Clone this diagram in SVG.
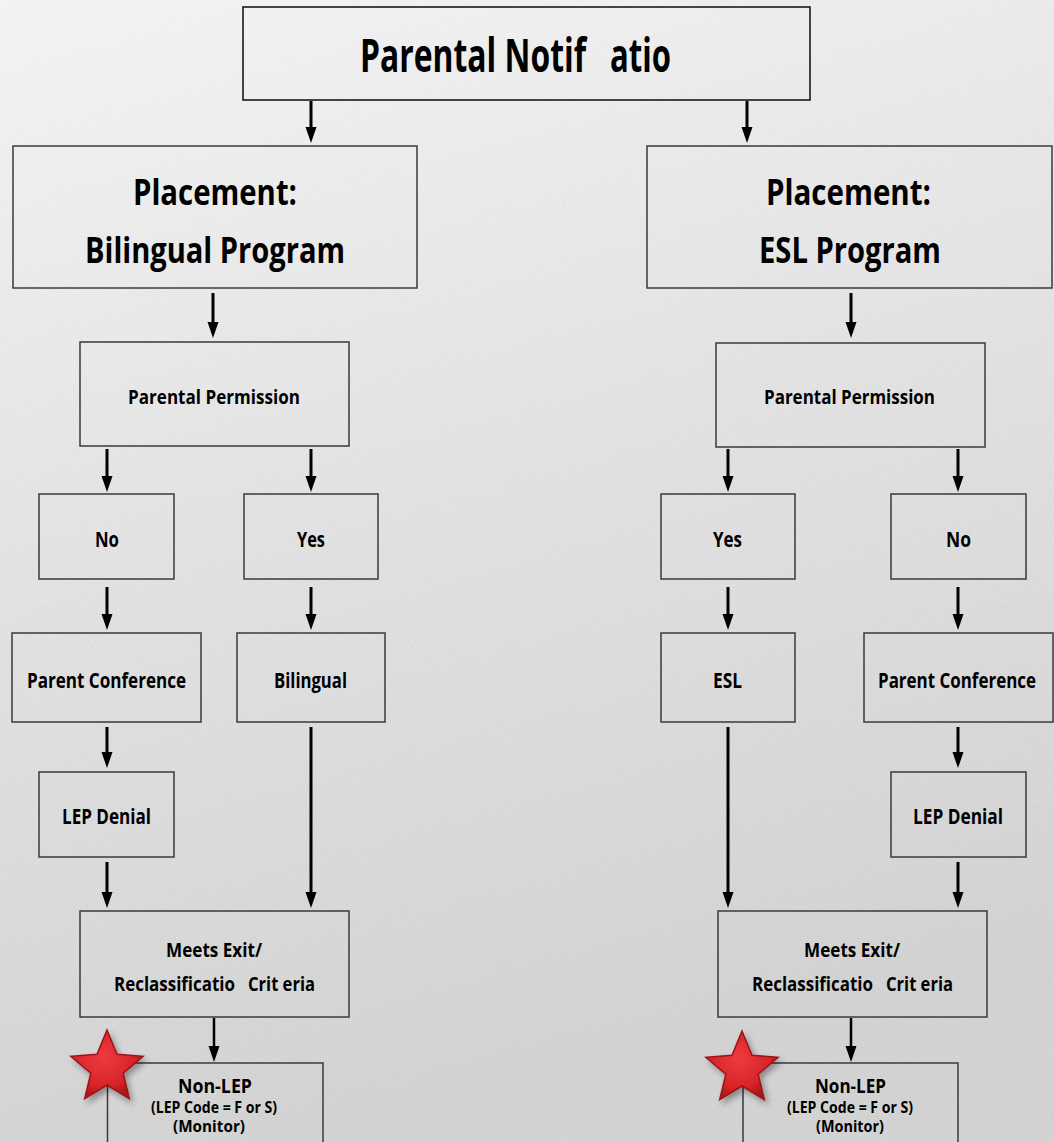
<svg xmlns="http://www.w3.org/2000/svg" width="1054" height="1142" viewBox="0 0 1054 1142">
<defs>
<linearGradient id="bg" x1="0" y1="0" x2="0.25" y2="1">
<stop offset="0" stop-color="#fbfbfb"/>
<stop offset="0.5" stop-color="#e7e7e7"/>
<stop offset="1" stop-color="#d6d6d6"/>
</linearGradient>
<filter id="noise" x="0" y="0" width="100%" height="100%">
<feTurbulence type="fractalNoise" baseFrequency="0.8 0.45" numOctaves="3" seed="4"/>
<feColorMatrix type="matrix" values="0.33 0.33 0.33 0 0  0.33 0.33 0.33 0 0  0.33 0.33 0.33 0 0  0 0 0 0 1"/>
</filter>
<radialGradient id="starFill" cx="0.45" cy="0.4" r="0.6">
<stop offset="0" stop-color="#ee3a40"/>
<stop offset="0.7" stop-color="#d8242a"/>
<stop offset="1" stop-color="#a81418"/>
</radialGradient>
<filter id="shadow" x="-30%" y="-30%" width="160%" height="160%">
<feDropShadow dx="3" dy="4" stdDeviation="3" flood-color="#000" flood-opacity="0.35"/>
</filter>
<marker id="ah" markerUnits="userSpaceOnUse" markerWidth="16" markerHeight="12" refX="6" refY="5.5" orient="auto">
<path d="M0,0 L16,5.5 L0,11 z" fill="#000"/>
</marker>
<path id="star" d="M0,-38 L10,-13.75 L36.14,-11.74 L16.17,5.25 L22.34,30.74 L0,17 L-22.34,30.74 L-16.17,5.25 L-36.14,-11.74 L-10,-13.75 Z"/>
<style>
.box{fill:none;stroke:#3a3a3a;stroke-width:1.5}
.tbox{fill:none;stroke:#1a1a1a;stroke-width:1.6}
.t{font-family:"Open Sans","Liberation Sans",Arial,sans-serif;font-weight:bold;fill:#000}
.big{font-size:35px}
.ttl{font-size:46px}
.m{font-size:22px}
.s{font-size:20px}
.xs{font-size:16px}
.c{fill:none;stroke:#000;stroke-width:3;marker-end:url(#ah)}
.c2{fill:none;stroke:#000;stroke-width:2.5;marker-end:url(#ah)}
.st{fill:url(#starFill);stroke:#9b1414;stroke-width:1.5;filter:url(#shadow)}
</style>
</defs>

<rect x="0" y="0" width="1054" height="1142" fill="url(#bg)"/>
<rect x="0" y="0" width="1054" height="1142" filter="url(#noise)" opacity="0.11"/>

<g id="connectors">
<path class="c" d="M311,101 V133"/>
<path class="c" d="M747,101 V133"/>
<path class="c" d="M213,293 V328"/>
<path class="c" d="M851,293 V328"/>
<path class="c" d="M107,449 V482"/>
<path class="c" d="M311,449 V482"/>
<path class="c" d="M728,449 V482"/>
<path class="c" d="M958,449 V482"/>
<path class="c" d="M107,587 V620"/>
<path class="c" d="M311,587 V620"/>
<path class="c" d="M728,587 V620"/>
<path class="c" d="M958,587 V620"/>
<path class="c" d="M107,727 V758"/>
<path class="c" d="M958,727 V758"/>
<path class="c" d="M311,727 V898"/>
<path class="c" d="M728,727 V898"/>
<path class="c" d="M107,862 V898"/>
<path class="c" d="M958,862 V898"/>
<path class="c2" d="M214,1018 V1052"/>
<path class="c2" d="M851,1018 V1052"/>
</g>

<g id="title">
<rect class="tbox" x="243" y="7" width="567" height="93"/>
<text class="t ttl" transform="translate(360,72) scale(0.7,1)" textLength="322.9" lengthAdjust="spacingAndGlyphs">Parental Notif</text>
<text class="t ttl" transform="translate(610,72) scale(0.7,1)" textLength="87.1" lengthAdjust="spacingAndGlyphs">atio</text>
</g>

<g id="placement-bilingual">
<rect class="box" x="13" y="146" width="404" height="142"/>
<text class="t big" transform="translate(133,205) scale(0.8,1)" textLength="205" lengthAdjust="spacingAndGlyphs">Placement:</text>
<text class="t big" transform="translate(85,263) scale(0.8,1)" textLength="325" lengthAdjust="spacingAndGlyphs">Bilingual Program</text>
</g>

<g id="placement-esl">
<rect class="box" x="647" y="146" width="405" height="142"/>
<text class="t big" transform="translate(766,205) scale(0.8,1)" textLength="206.25" lengthAdjust="spacingAndGlyphs">Placement:</text>
<text class="t big" transform="translate(759,263) scale(0.8,1)" textLength="227.5" lengthAdjust="spacingAndGlyphs">ESL Program</text>
</g>

<g id="permission-left">
<rect class="box" x="80" y="342" width="269" height="104"/>
<text class="t s" transform="translate(128,404) scale(0.8,1)" textLength="215" lengthAdjust="spacingAndGlyphs">Parental Permission</text>
</g>

<g id="permission-right">
<rect class="box" x="716" y="343" width="269" height="104"/>
<text class="t s" transform="translate(764,404) scale(0.8,1)" textLength="213.75" lengthAdjust="spacingAndGlyphs">Parental Permission</text>
</g>

<g id="no-left">
<rect class="box" x="39" y="494" width="135" height="85"/>
<text class="t m" transform="translate(95,547) scale(0.8,1)" textLength="30" lengthAdjust="spacingAndGlyphs">No</text>
</g>

<g id="yes-left">
<rect class="box" x="244" y="494" width="134" height="85"/>
<text class="t m" transform="translate(297,547) scale(0.8,1)" textLength="35" lengthAdjust="spacingAndGlyphs">Yes</text>
</g>

<g id="yes-right">
<rect class="box" x="661" y="494" width="134" height="85"/>
<text class="t m" transform="translate(713,547) scale(0.8,1)" textLength="36.25" lengthAdjust="spacingAndGlyphs">Yes</text>
</g>

<g id="no-right">
<rect class="box" x="891" y="494" width="135" height="85"/>
<text class="t m" transform="translate(946,547) scale(0.8,1)" textLength="31.25" lengthAdjust="spacingAndGlyphs">No</text>
</g>

<g id="conference-left">
<rect class="box" x="12" y="633" width="189" height="89"/>
<text class="t m" transform="translate(27,688) scale(0.8,1)" textLength="198.75" lengthAdjust="spacingAndGlyphs">Parent Conference</text>
</g>

<g id="bilingual">
<rect class="box" x="237" y="633" width="148" height="89"/>
<text class="t m" transform="translate(274,688) scale(0.8,1)" textLength="91.25" lengthAdjust="spacingAndGlyphs">Bilingual</text>
</g>

<g id="esl">
<rect class="box" x="661" y="633" width="134" height="89"/>
<text class="t m" transform="translate(713,688) scale(0.8,1)" textLength="36.25" lengthAdjust="spacingAndGlyphs">ESL</text>
</g>

<g id="conference-right">
<rect class="box" x="864" y="633" width="189" height="89"/>
<text class="t m" transform="translate(878,688) scale(0.8,1)" textLength="197.5" lengthAdjust="spacingAndGlyphs">Parent Conference</text>
</g>

<g id="denial-left">
<rect class="box" x="39" y="772" width="135" height="85"/>
<text class="t m" transform="translate(62,824) scale(0.8,1)" textLength="111.25" lengthAdjust="spacingAndGlyphs">LEP Denial</text>
</g>

<g id="denial-right">
<rect class="box" x="891" y="772" width="135" height="85"/>
<text class="t m" transform="translate(913,824) scale(0.8,1)" textLength="112.5" lengthAdjust="spacingAndGlyphs">LEP Denial</text>
</g>

<g id="exit-left">
<rect class="box" x="80" y="911" width="269" height="106"/>
<text class="t s" transform="translate(166,957) scale(0.8,1)" textLength="120" lengthAdjust="spacingAndGlyphs">Meets Exit/</text>
<text class="t s" transform="translate(114,991) scale(0.8,1)" textLength="151.25" lengthAdjust="spacingAndGlyphs">Reclassificatio</text>
<text class="t s" transform="translate(248,991) scale(0.8,1)" textLength="83.75" lengthAdjust="spacingAndGlyphs">Crit eria</text>
</g>

<g id="exit-right">
<rect class="box" x="718" y="911" width="269" height="106"/>
<text class="t s" transform="translate(804,957) scale(0.8,1)" textLength="120" lengthAdjust="spacingAndGlyphs">Meets Exit/</text>
<text class="t s" transform="translate(752,991) scale(0.8,1)" textLength="151.25" lengthAdjust="spacingAndGlyphs">Reclassificatio</text>
<text class="t s" transform="translate(886,991) scale(0.8,1)" textLength="83.75" lengthAdjust="spacingAndGlyphs">Crit eria</text>
</g>

<g id="nonlep-left">
<rect class="box" x="107.5" y="1063" width="215.5" height="100"/>
<text class="t s" transform="translate(178,1093) scale(0.8,1)" textLength="92.5" lengthAdjust="spacingAndGlyphs">Non-LEP</text>
<text class="t xs" transform="translate(151,1113) scale(0.8,1)" textLength="157.5" lengthAdjust="spacingAndGlyphs">(LEP Code = F or S)</text>
<text class="t xs" transform="translate(173,1132) scale(0.8,1)" textLength="90" lengthAdjust="spacingAndGlyphs">(Monitor)</text>
<use href="#star" class="st" transform="translate(107,1068)"/>
</g>

<g id="nonlep-right">
<rect class="box" x="743" y="1063" width="215" height="100"/>
<text class="t s" transform="translate(815,1093) scale(0.8,1)" textLength="88.75" lengthAdjust="spacingAndGlyphs">Non-LEP</text>
<text class="t xs" transform="translate(787,1113) scale(0.8,1)" textLength="157.5" lengthAdjust="spacingAndGlyphs">(LEP Code = F or S)</text>
<text class="t xs" transform="translate(816,1132) scale(0.8,1)" textLength="85" lengthAdjust="spacingAndGlyphs">(Monitor)</text>
<use href="#star" class="st" transform="translate(742,1069)"/>
</g>
</svg>
